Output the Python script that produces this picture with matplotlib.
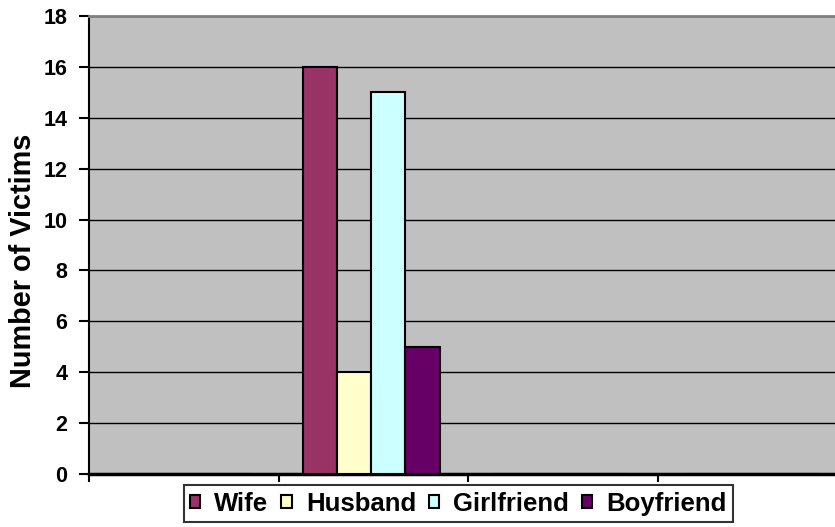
import matplotlib
matplotlib.use("Agg")
import matplotlib.pyplot as plt
import numpy as np

plt.rcParams['font.family'] = ['Liberation Sans', 'DejaVu Sans']
plt.rcParams['font.weight'] = 'bold'

categories = ["", "", "", ""]
series_names = ["Wife", "Husband", "Girlfriend", "Boyfriend"]
wife = [0, 16, 0, 0]
husband = [0, 4, 0, 0]
girlfriend = [0, 15, 0, 0]
boyfriend = [0, 5, 0, 0]
colors = ["#993366", "#FFFFCC", "#CCFFFF", "#660066"]
y_ticks = [0, 2, 4, 6, 8, 10, 12, 14, 16, 18]

W, H = 835, 527
fig = plt.figure(figsize=(W / 100, H / 100), dpi=100)
ax = fig.add_axes([89 / W, 1 - 474 / H, (847 - 89) / W, (474 - 16) / H])
ax.set_facecolor("#C0C0C0")

x = np.arange(len(categories)) + 0.5
bw = 0.18
series = [wife, husband, girlfriend, boyfriend]
for i, (name, vals, c) in enumerate(zip(series_names, series, colors)):
    ax.bar(x + (i - 1.5) * bw - 0.01, vals, width=bw, color=c, edgecolor="black",
           linewidth=1.5, label=name, zorder=3)

ax.set_xlim(0, len(categories))
ax.set_ylim(0, 18)
ax.set_yticks(y_ticks)
ax.set_yticklabels([str(v) for v in y_ticks], fontsize=15.5, fontweight='bold')
ax.set_xticks(np.arange(len(categories) + 1))
ax.set_xticklabels([])
ax.yaxis.grid(True, color="black", linewidth=1.0, zorder=1)
ax.set_axisbelow(True)

ax.tick_params(axis='y', direction='out', length=7.2, width=1.5, pad=8.5)
ax.tick_params(axis='x', direction='out', length=6, width=1.5)

ax.spines['left'].set_linewidth(1.5)
ax.spines['bottom'].set_linewidth(2.5)
ax.spines['top'].set_color("#808080")
ax.spines['top'].set_linewidth(2)
ax.spines['right'].set_visible(False)

fig.text(23 / W, 1 - 261 / H, "Number of Victims", fontsize=20.8, fontweight='bold',
         rotation=90, ha='center', va='center')

leg = fig.legend(loc='center', bbox_to_anchor=(0.549, 0.044), ncol=4,
                 fontsize=18.5, frameon=True, fancybox=False,
                 handlelength=0.4, handleheight=0.4, handletextpad=0.55,
                 columnspacing=0.5, borderpad=0.25, borderaxespad=0)
leg.get_frame().set_edgecolor("black")
leg.get_frame().set_linewidth(1.5)
for t in leg.get_texts():
    t.set_fontweight('bold')

fig.savefig("out.png", dpi=100)
